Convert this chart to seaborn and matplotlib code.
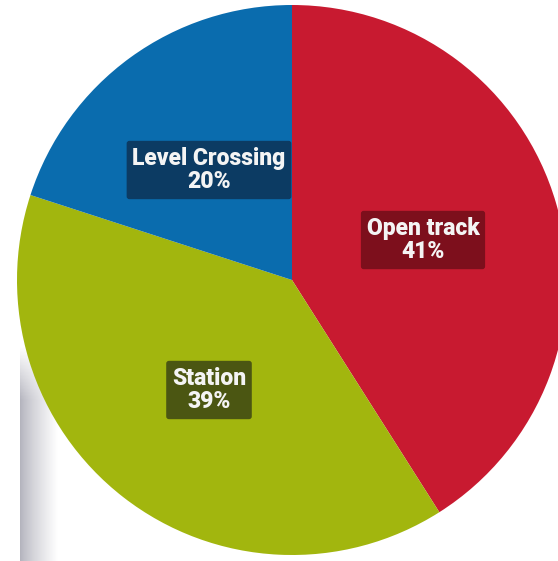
import numpy as np
import matplotlib
matplotlib.use("Agg")
import matplotlib.pyplot as plt
import seaborn as sns

# --- data ---
categories = ["Open track", "Station", "Level Crossing"]
shares = [41, 39, 20]
slice_colors = ["#c81a30", "#a2b60e", "#0a6cae"]
box_colors = ["#7d0f1c", "#4b5612", "#0c3b63"]

# label centres in pixel space (image coords, y down)
label_pos = [(423, 240), (209, 390), (209, 170)]

sns.set_style("white")
plt.rcParams["font.family"] = ["Roboto", "DejaVu Sans"]

W, H = 558, 561
fig = plt.figure(figsize=(W / 100, H / 100), dpi=100)
ax = fig.add_axes([0, 0, 1, 1])

# grey shadow strip on the left, fading right and upwards
gx = np.linspace(0, 1, 64) ** 0.8
gy = np.clip(np.linspace(0, 4, 64), 0, 1)[:, None]
grad = 1 - (1 - gx[None, :]) * gy
ax.imshow(grad, cmap=sns.blend_palette(["#b3b3bd", "#ffffff"], as_cmap=True),
          extent=(20, 58, 0, H - 345), aspect="auto", zorder=0, origin="upper")

pal = sns.color_palette(slice_colors)
ax.pie(shares, colors=pal, startangle=90, counterclock=False,
       center=(292, H - 280), radius=275, frame=True,
       wedgeprops=dict(linewidth=0, zorder=1))

for name, val, (x, y), bc in zip(categories, shares, label_pos, box_colors):
    ax.text(x, H - y, f"{name}\n{val}%", ha="center", va="center",
            color="#f4f4f4", fontsize=16.5, fontweight="heavy", linespacing=1.05,
            zorder=3,
            bbox=dict(boxstyle="round,pad=0.25,rounding_size=0.12", fc=bc, ec="none"))

ax.set_xlim(0, W)
ax.set_ylim(0, H)
ax.set_aspect("equal")
ax.axis("off")

fig.savefig("out.png", dpi=100)
